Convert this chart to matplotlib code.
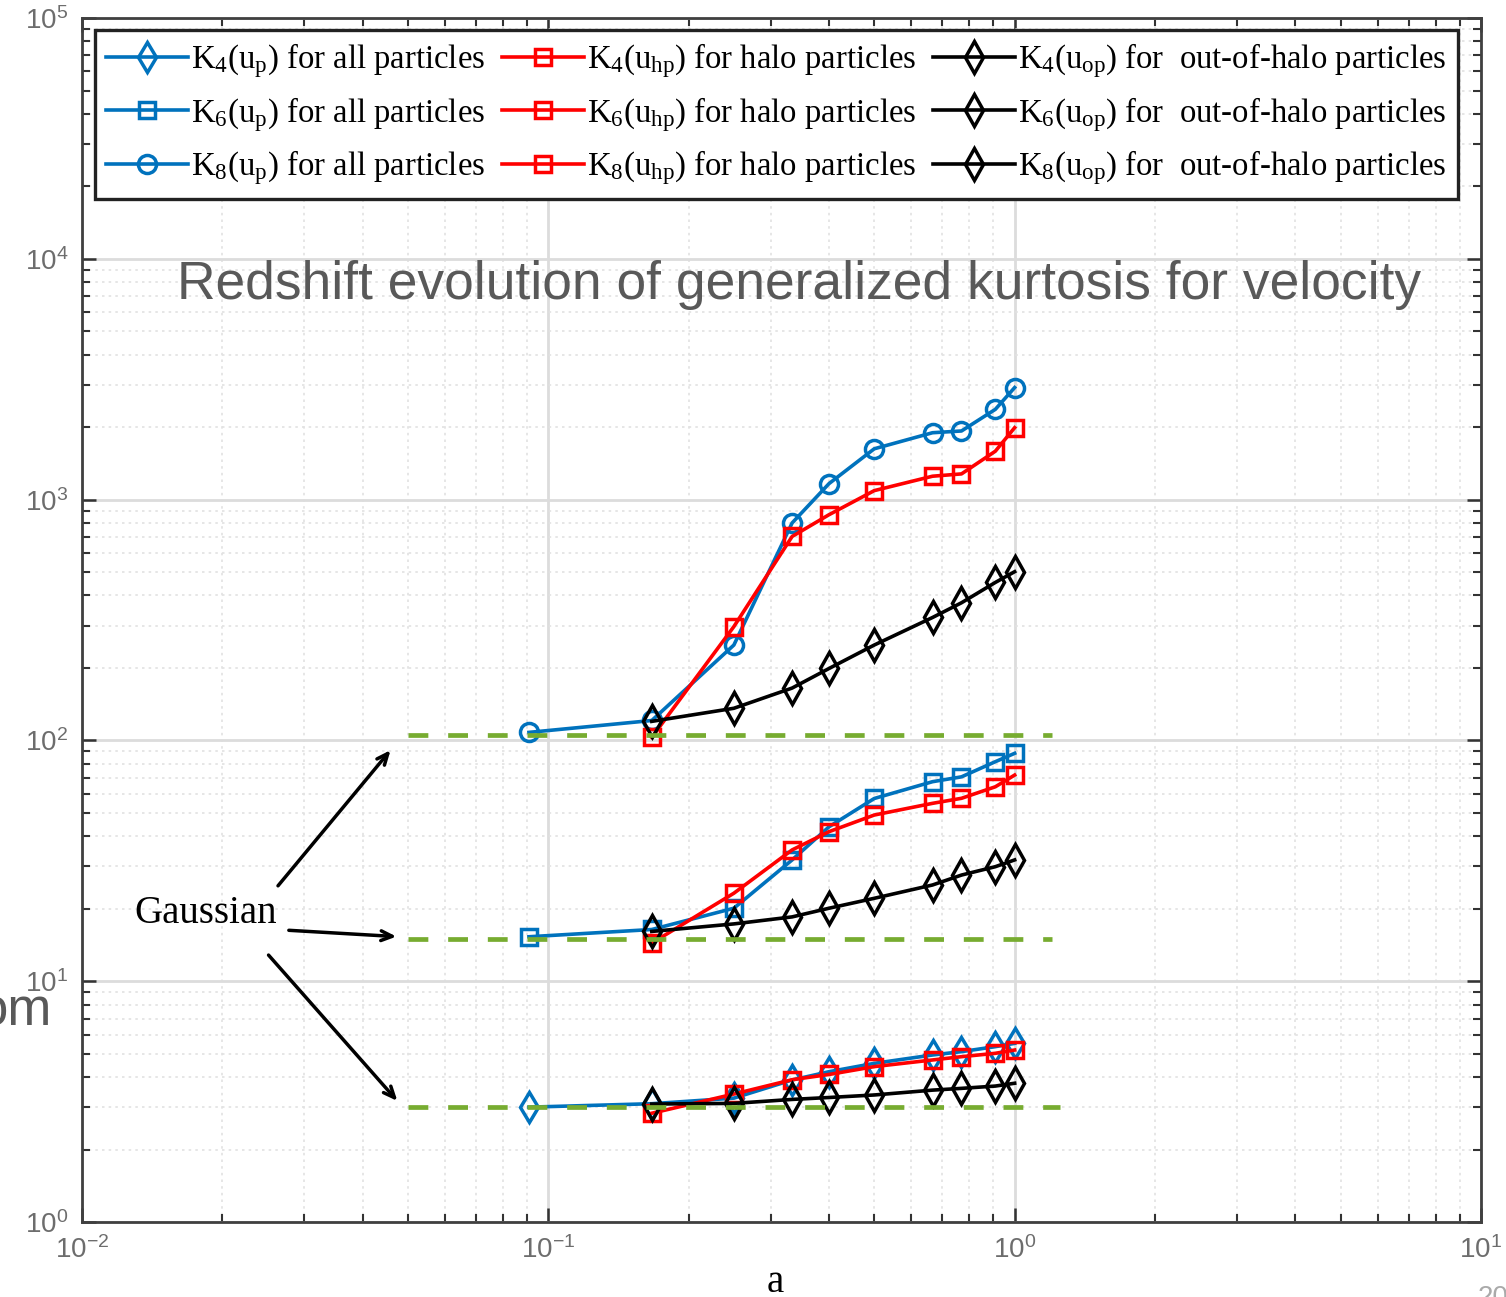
import numpy as np
import matplotlib
matplotlib.use("Agg")
import matplotlib.pyplot as plt
import matplotlib.ticker as mticker

# --- Data ---
a_all = [0.0909, 0.1667, 0.25, 0.3333, 0.4, 0.5, 0.6667, 0.7692, 0.9091, 1.0]
a_sub = [0.1667, 0.25, 0.3333, 0.4, 0.5, 0.6667, 0.7692, 0.9091, 1.0]

k4_all = [3.0, 3.1, 3.27, 3.89, 4.21, 4.56, 4.94, 5.1, 5.35, 5.52]
k6_all = [15.3, 16.4, 20.1, 31.9, 43.8, 57.4, 67.4, 70.6, 81.6, 88.4]
k8_all = [108, 121, 249, 800, 1166, 1626, 1896, 1928, 2371, 2920]

k4_halo = [2.83, 3.4, 3.9, 4.1, 4.42, 4.71, 4.86, 5.02, 5.18]
k6_halo = [14.4, 23.2, 35.1, 41.8, 49.0, 54.8, 57.5, 64.2, 71.8]
k8_halo = [103, 297, 703, 866, 1090, 1251, 1279, 1589, 1990]

k4_out = [3.09, 3.11, 3.23, 3.29, 3.37, 3.53, 3.59, 3.67, 3.77]
k6_out = [16.1, 17.3, 18.5, 20.1, 22.1, 25.1, 27.6, 29.9, 31.9]
k8_out = [120, 136, 165, 199, 249, 324, 373, 453, 502]

gauss_vals = [3, 15, 105]
gauss_span = [(0.05, 1.25), (0.05, 1.2), (0.05, 1.2)]

labels_all = [r"K$_\mathrm{4}$(u$_\mathrm{p}$) for all particles",
              r"K$_\mathrm{6}$(u$_\mathrm{p}$) for all particles",
              r"K$_\mathrm{8}$(u$_\mathrm{p}$) for all particles"]
labels_halo = [r"K$_\mathrm{4}$(u$_\mathrm{hp}$) for halo particles",
               r"K$_\mathrm{6}$(u$_\mathrm{hp}$) for halo particles",
               r"K$_\mathrm{8}$(u$_\mathrm{hp}$) for halo particles"]
labels_out = [r"K$_\mathrm{4}$(u$_\mathrm{op}$) for  out-of-halo particles",
              r"K$_\mathrm{6}$(u$_\mathrm{op}$) for  out-of-halo particles",
              r"K$_\mathrm{8}$(u$_\mathrm{op}$) for  out-of-halo particles"]

# --- Style ---
plt.rcParams.update({
    "mathtext.fontset": "custom",
    "mathtext.rm": "Liberation Serif",
    "mathtext.it": "Liberation Serif:italic",
    "mathtext.bf": "Liberation Serif:bold",
    "mathtext.sf": "Liberation Sans",
    "font.family": "Liberation Serif",
})

BLUE = "#0072BD"
RED = "#FF0000"
BLACK = "#000000"
GREEN = "#77AC30"

fig = plt.figure(figsize=(15.06, 12.97), dpi=100)
ax = fig.add_axes([0.0544, 0.0578, 0.929, 0.9283])

line_kw = dict(lw=2.6, mew=2.5, mfc="none")
handles = []
for y, m, ms in zip([k4_all, k6_all, k8_all], ["d", "s", "o"], [15, 11, 13]):
    h, = ax.plot(a_all, y, color=BLUE, marker=m, ms=ms, zorder=3, **line_kw)
    handles.append(h)
for y in [k4_halo, k6_halo, k8_halo]:
    h, = ax.plot(a_sub, y, color=RED, marker="s", ms=11, zorder=4, **line_kw)
    handles.append(h)
for y in [k4_out, k6_out, k8_out]:
    h, = ax.plot(a_sub, y, color=BLACK, marker="d", ms=16, zorder=5, **line_kw)
    handles.append(h)

for g, (x0, x1) in zip(gauss_vals, gauss_span):
    ax.plot([x0, x1], [g, g], color=GREEN, lw=3.4, dashes=(4.2, 4.2), zorder=6)

ax.set_xscale("log")
ax.set_yscale("log")
ax.set_xlim(1e-2, 1e1)
ax.set_ylim(1e0, 1e5)

fmt = mticker.FuncFormatter(lambda v, p: r"$\mathsf{10^{%d}}$" % round(np.log10(v)))
ax.xaxis.set_major_formatter(fmt)
ax.yaxis.set_major_formatter(fmt)
ax.xaxis.set_major_locator(mticker.LogLocator(base=10, numticks=10))
ax.yaxis.set_major_locator(mticker.LogLocator(base=10, numticks=10))
ax.xaxis.set_minor_locator(mticker.LogLocator(base=10, subs=np.arange(2, 10), numticks=20))
ax.yaxis.set_minor_locator(mticker.LogLocator(base=10, subs=np.arange(2, 10), numticks=20))
ax.xaxis.set_minor_formatter(mticker.NullFormatter())
ax.yaxis.set_minor_formatter(mticker.NullFormatter())

ax.tick_params(which="both", direction="in", top=True, right=True, color="#333333")
ax.tick_params(which="major", length=10, width=1.8, labelsize=20, labelcolor="#6d6d6d", pad=10)
ax.tick_params(which="minor", length=6, width=1.5)
for s in ax.spines.values():
    s.set_color("#404040")
    s.set_linewidth(2)

ax.grid(which="major", color="#dcdcdc", lw=2, ls="-")
ax.grid(which="minor", color="#e2e2e2", lw=1.2, ls=(0, (1.5, 2.5)))
ax.set_axisbelow(True)

leg = ax.legend(handles=handles, labels=labels_all + labels_halo + labels_out,
                ncol=3, loc="upper left", bbox_to_anchor=(0.009, 0.99),
                prop={"family": "Liberation Serif", "size": 23.6},
                handlelength=2.5, handletextpad=0.1, columnspacing=0.5,
                labelspacing=0.44, borderpad=0.35, borderaxespad=0,
                fancybox=False, framealpha=1, edgecolor="#222222")
leg.get_frame().set_linewidth(2.4)

# Gaussian annotation
ax.text(0.01293, 19.2, "Gaussian", fontsize=28, family="Liberation Serif",
        va="center", ha="left")
arrow_kw = dict(arrowstyle="->,head_length=0.8,head_width=0.35", color="black", lw=2.5)
ax.annotate("", xy=(0.0463, 93), xytext=(0.0261, 24.4), arrowprops=arrow_kw)
ax.annotate("", xy=(0.0479, 15.3), xytext=(0.0274, 16.3), arrowprops=arrow_kw)
ax.annotate("", xy=(0.0479, 3.12), xytext=(0.0249, 13.1), arrowprops=arrow_kw)

# Title and axis label
fig.text(799 / 1506, 1 - 285 / 1297, "Redshift evolution of generalized kurtosis for velocity",
         family="Liberation Sans", fontsize=38.4, color="#595959", ha="center", va="center")
fig.text(775 / 1506, 1 - 1283 / 1297, "a", family="Liberation Serif", fontsize=28,
         ha="center", va="center")
# slide leftovers
fig.text(52 / 1506, 1 - 1025 / 1297, "om", family="Liberation Sans", fontsize=38,
         color="#595959", ha="right", va="baseline")
fig.text(1478 / 1506, 1 - 1285 / 1297, "20", family="Liberation Sans", fontsize=20,
         color="#aaaaaa", ha="left", va="top")

fig.savefig("out.png", dpi=100)
